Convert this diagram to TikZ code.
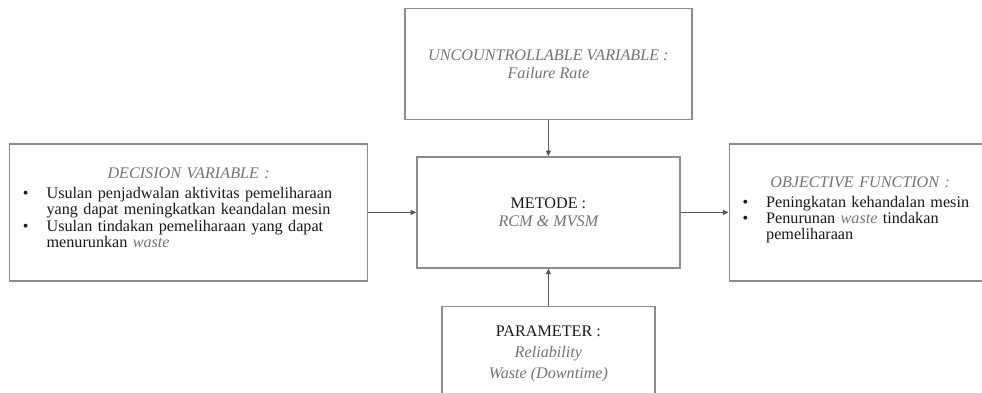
\documentclass[tikz,border=0pt]{standalone}
\usepackage{fontspec}
\setmainfont{Liberation Serif}
\usetikzlibrary{arrows.meta,positioning}

\newcommand{\vartitle}[1]{{\color{black!55}\itshape #1}}
\newenvironment{boxlist}{\begin{list}{\textbullet}{%
  \setlength\leftmargin{0.65cm}\setlength\labelwidth{0.2cm}%
  \setlength\labelsep{0.45cm}\setlength\topsep{2.5pt}\setlength\partopsep{0pt}%
  \setlength\itemsep{0pt}\setlength\parsep{0pt}}}{\end{list}}

\begin{document}
\begin{tikzpicture}[
  font=\fontsize{11.5}{11.6}\selectfont,
  box/.style={draw=black!45, line width=0.9pt, align=center, inner sep=0pt,
    text=black!90},
  side/.style={box, align=left, minimum height=3.425cm, inner xsep=0.275cm},
  arr/.style={-{Triangle[length=4pt,width=3.5pt]}, line width=0.8pt, black!65}
]
\useasboundingbox (0,0) rectangle (24.55,9.8);

% ── The method in the middle ─────────────────────────────────────────────
\node[box, minimum width=6.575cm, minimum height=2.775cm] (metode) at (13.71,4.49)
  {METODE :\\[1.2pt] \vartitle{RCM \& MVSM}};

% ── Uncontrollable variable (above) ──────────────────────────────────────
\node[box, minimum width=7.175cm, minimum height=2.775cm, above=0.9cm of metode]
  (uncontrol) {\vartitle{UNCOUNTROLLABLE VARIABLE :}\\[1.2pt] \vartitle{Failure Rate}};

% ── Decision variable (west) ─────────────────────────────────────────────
\node[side, text width=8.4cm, left=1.2cm of metode] (decision)
  {{\centering\vartitle{DECISION VARIABLE :}\par}
   \begin{boxlist}
   \item Usulan penjadwalan aktivitas pemeliharaan\\ yang dapat meningkatkan keandalan mesin
   \item Usulan tindakan pemeliharaan yang dapat\\ menurunkan \vartitle{waste}
   \end{boxlist}\vspace{4pt}};

% ── Objective function (east) ────────────────────────────────────────────
\node[side, text width=6.0cm, right=1.2cm of metode] (objective)
  {{\centering\vartitle{OBJECTIVE FUNCTION :}\par}
   \begin{boxlist}
   \item Peningkatan kehandalan mesin
   \item Penurunan \vartitle{waste} tindakan\\ pemeliharaan
   \end{boxlist}\vspace{1pt}};

% ── Parameter (below) ────────────────────────────────────────────────────
\node[box, minimum width=5.325cm, minimum height=2.375cm, below=0.925cm of metode]
  (param) {PARAMETER :\\[3.4pt] \vartitle{Reliability}\\[3.4pt] \vartitle{Waste (Downtime)}};

\draw[arr] (uncontrol) -- (metode);
\draw[arr] (param) -- (metode);
\draw[arr] (decision) -- (metode);
\draw[arr] (metode) -- (objective);

\end{tikzpicture}
\end{document}
